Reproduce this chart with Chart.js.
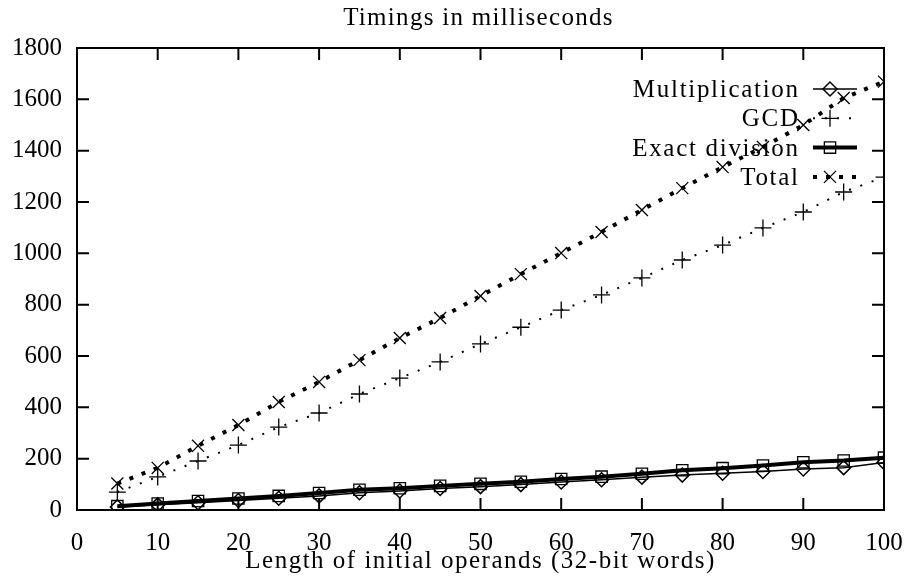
<!DOCTYPE html>
<html>
<head>
<meta charset="utf-8">
<script src="https://cdn.jsdelivr.net/npm/chart.js@4/dist/chart.umd.min.js"></script>
<style>
  body { margin: 0; background: #fff; }
  #wrap { width: 904px; height: 581px; }
</style>
</head>
<body>
<div id="wrap"><canvas id="timings" width="904" height="581"></canvas></div>
<script>
// operand lengths (32-bit words)
const lengths = [5, 10, 15, 20, 25, 30, 35, 40, 45, 50, 55, 60, 65, 70, 75, 80, 85, 90, 95, 100];
// timings in ms
const multiplication = [12, 20, 28, 37, 46, 55, 67, 74, 84, 91, 99, 109, 118, 128, 136, 143, 150, 160, 165, 185];
const gcd = [70, 129, 191, 253, 323, 378, 452, 514, 577, 647, 712, 779, 838, 904, 974, 1032, 1099, 1161, 1239, 1297];
const exactDivision = [15, 25, 35, 45, 55, 66, 79, 85, 94, 102, 110, 121, 130, 141, 155, 163, 173, 186, 193, 204];
const total = [103, 164, 250, 331, 421, 499, 584, 670, 748, 834, 919, 1001, 1083, 1169, 1254, 1336, 1414, 1500, 1605, 1669];
const seriesNames = ['Multiplication', 'GCD', 'Exact division', 'Total'];
const chartTitle = 'Timings in milliseconds';
const xTitle = 'Length of initial operands (32-bit words)';

const FONT = '"Liberation Serif", "Times New Roman", serif';
Chart.defaults.font.family = FONT;
Chart.defaults.font.size = 25;
Chart.defaults.color = '#000';

function pts(vals) {
  return lengths.map((x, i) => ({ x: x, y: vals[i] }));
}

const styles = [
  { pointStyle: 'rectRot', radius: 7, borderWidth: 1.5, dash: [], lw: 1.5 },
  { pointStyle: 'cross', radius: 8.5, borderWidth: 1.3, dash: [2, 10], lw: 2 },
  { pointStyle: 'rect', radius: 8, borderWidth: 1.3, dash: [], lw: 4 },
  { pointStyle: 'crossRot', radius: 8.5, borderWidth: 1.3, dash: [4, 9], lw: 4 }
];
const values = [multiplication, gcd, exactDivision, total];

const datasets = values.map((v, i) => ({
  label: seriesNames[i],
  data: pts(v),
  borderColor: '#000',
  borderWidth: styles[i].lw,
  borderDash: styles[i].dash,
  borderCapStyle: 'butt',
  pointStyle: styles[i].pointStyle,
  pointRadius: styles[i].radius,
  pointBorderWidth: styles[i].borderWidth,
  pointBorderColor: '#000',
  pointBackgroundColor: 'rgba(0,0,0,0)',
  tension: 0,
  fill: false
}));

// gnuplot-like frame with inward ticks on all four sides
const frame = {
  id: 'frame',
  afterDatasetsDraw(chart) {
    const { ctx, chartArea: a, scales } = chart;
    const len = 12;
    ctx.save();
    ctx.strokeStyle = '#000';
    ctx.lineWidth = 2;
    ctx.strokeRect(a.left, a.top, a.right - a.left, a.bottom - a.top);
    ctx.beginPath();
    scales.x.ticks.forEach(t => {
      const px = scales.x.getPixelForValue(t.value);
      ctx.moveTo(px, a.bottom); ctx.lineTo(px, a.bottom - len);
      ctx.moveTo(px, a.top); ctx.lineTo(px, a.top + len);
    });
    scales.y.ticks.forEach(t => {
      const py = scales.y.getPixelForValue(t.value);
      ctx.moveTo(a.left, py); ctx.lineTo(a.left + len, py);
      ctx.moveTo(a.right, py); ctx.lineTo(a.right - len, py);
    });
    ctx.stroke();
    ctx.restore();
  }
};

// titles and key, with a little letter spacing to get closer to the TeX look
const texts = {
  id: 'texts',
  afterDraw(chart) {
    const ctx = chart.ctx;
    const a = chart.chartArea;
    const mid = (a.left + a.right) / 2;
    ctx.save();
    ctx.font = '25px ' + FONT;
    ctx.fillStyle = '#000';
    ctx.letterSpacing = '1.3px';
    ctx.textBaseline = 'alphabetic';
    ctx.textAlign = 'center';
    ctx.fillText(chartTitle, mid - 2, 25);
    ctx.letterSpacing = '1.5px';
    ctx.fillText(xTitle, mid, 568);

    const textRight = 798, x0 = 813, x1 = 857, xm = 830;
    ctx.textAlign = 'right';
    ctx.letterSpacing = '1.7px';
    chart.data.datasets.forEach((ds, i) => {
      const base = 97 + i * 29.3;
      const y = base - 8;
      ctx.fillStyle = '#000';
      ctx.fillText(ds.label, textRight + 1.7, base);
      ctx.beginPath();
      ctx.strokeStyle = '#000';
      ctx.lineWidth = ds.borderWidth;
      ctx.lineCap = 'butt';
      ctx.setLineDash(ds.borderDash);
      ctx.moveTo(x0, y); ctx.lineTo(x1, y);
      ctx.stroke();
      ctx.setLineDash([]);
      ctx.lineWidth = ds.pointBorderWidth;
      ctx.fillStyle = 'rgba(0,0,0,0)';
      Chart.helpers.drawPoint(ctx, {
        pointStyle: ds.pointStyle, radius: ds.pointRadius, rotation: 0, borderWidth: ds.pointBorderWidth
      }, xm, y);
    });
    ctx.restore();
  }
};

new Chart(document.getElementById('timings'), {
  type: 'line',
  data: { datasets: datasets },
  options: {
    responsive: false,
    animation: false,
    layout: { padding: { left: 0, right: 20, top: 48, bottom: 0 } },
    plugins: {
      legend: { display: false },
      tooltip: { enabled: false },
      title: { display: false }
    },
    scales: {
      x: {
        type: 'linear',
        min: 0, max: 100,
        ticks: { stepSize: 10, padding: 18 },
        grid: { display: false, drawTicks: false },
        border: { display: false },
        afterFit(s) { s.height = 71; s.paddingLeft = 0; s.paddingRight = 0; }
      },
      y: {
        min: 0, max: 1800,
        ticks: { stepSize: 200, padding: 15, callback: v => String(v) },
        grid: { display: false, drawTicks: false },
        border: { display: false },
        afterFit(s) { s.width = 77; s.paddingTop = 0; s.paddingBottom = 0; }
      }
    }
  },
  plugins: [frame, texts]
});
</script>
</body>
</html>
